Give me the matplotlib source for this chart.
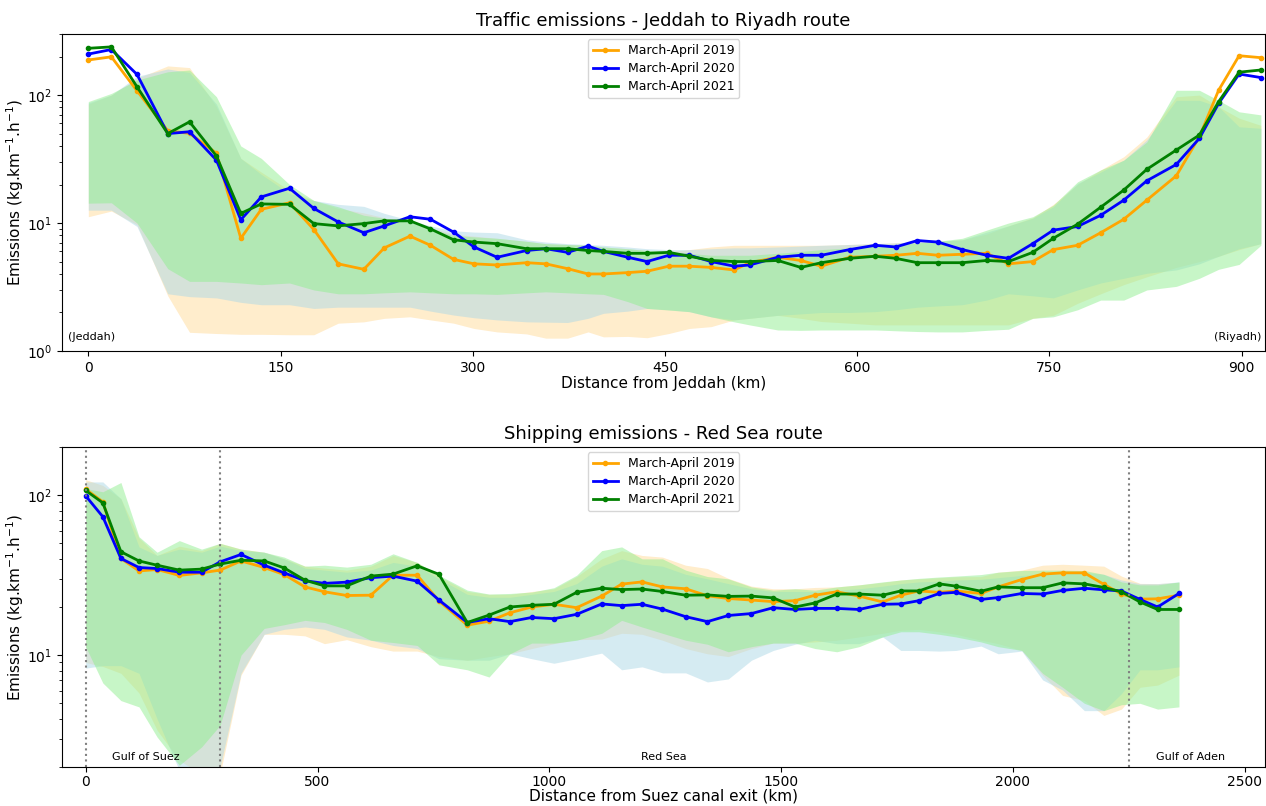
## traffic and shipping emissions along the two routes, 2019-2021
import numpy as np
import matplotlib
matplotlib.use('Agg')
import matplotlib.pyplot as plt
from matplotlib.ticker import MultipleLocator
import matplotlib.transforms as mtransforms

########
# Jeddah -> Riyadh road (distance in km, emissions in kg.km-1.h-1)
dist_road = [0, 18, 38, 62, 79, 100, 119, 135, 157, 176,
             195, 215, 231, 251, 267, 285, 301, 319, 342, 357,
             374, 390, 402, 421, 436, 453, 469, 486, 504, 516,
             538, 556, 572, 594, 614, 630, 647, 663, 682, 701,
             718, 737, 753, 772, 790, 808, 826, 849, 867, 882,
             898, 915]

road_2019 = [188, 199, 108, 52.6, 50.2, 35.1, 7.6, 12.8, 14.4, 8.9,
             4.8, 4.35, 6.4, 7.9, 6.7, 5.2, 4.8, 4.7, 4.9, 4.8,
             4.4, 4.0, 4.0, 4.1, 4.2, 4.6, 4.6, 4.5, 4.3, 4.9,
             5.4, 5.1, 4.6, 5.4, 5.5, 5.6, 5.8, 5.6, 5.7, 5.8,
             4.8, 5.0, 6.2, 6.7, 8.4, 10.7, 15.1, 23.4, 47.2, 109,
             203, 196]
road_2020 = [209, 227, 145, 50, 51.7, 31, 10.6, 16, 18.7, 13,
             10.2, 8.4, 9.5, 11.2, 10.7, 8.5, 6.5, 5.4, 6.1, 6.3,
             5.9, 6.6, 6.0, 5.4, 5.0, 5.6, 5.6, 5.0, 4.6, 4.7,
             5.4, 5.6, 5.6, 6.2, 6.7, 6.5, 7.3, 7.1, 6.2, 5.6,
             5.3, 6.9, 8.8, 9.4, 11.5, 15.1, 21.4, 28.7, 45.9, 86,
             146, 137]
road_2021 = [232, 238, 116, 50, 61.8, 33.4, 11.9, 14.1, 14.0, 9.9,
             9.5, 9.9, 10.4, 10.4, 9.0, 7.4, 7.1, 6.9, 6.3, 6.3,
             6.3, 6.1, 6.0, 5.8, 5.8, 5.9, 5.5, 5.1, 5.0, 5.0,
             5.1, 4.5, 4.9, 5.3, 5.5, 5.3, 4.9, 4.9, 4.9, 5.1,
             5.0, 5.9, 7.6, 9.8, 13.3, 18.1, 26.3, 37.2, 48.7, 88.7,
             151, 157]

# spread (low / high) for each period
road_2019_lo = [11.2, 12.4, 9.7, 2.7, 1.4, 1.37, 1.35, 1.35, 1.34, 1.34,
                1.65, 1.69, 1.8, 1.85, 1.75, 1.65, 1.5, 1.41, 1.36, 1.26,
                1.26, 1.41, 1.29, 1.3, 1.27, 1.37, 1.5, 1.55, 1.75, 1.8,
                1.9, 1.8, 1.7, 1.65, 1.6, 1.6, 1.6, 1.6, 1.6, 1.6,
                1.6, 1.8, 1.9, 2.36, 2.8, 3.3, 3.8, 4.5, 5.0, 5.5,
                6.2, 6.9]
road_2019_hi = [85, 100, 135, 169, 164, 81, 32, 25, 18, 15,
                13, 12, 11, 10, 9.2, 8.2, 7.9, 7.6, 7.2, 6.9,
                6.8, 6.7, 6.5, 6.3, 6.1, 6.0, 6.2, 6.5, 6.7, 6.7,
                6.7, 6.7, 6.7, 6.8, 6.9, 7.0, 7.1, 7.2, 7.4, 8.2,
                9.5, 11, 14, 20, 26, 33, 47, 97, 100, 81,
                66, 58]
road_2020_lo = [12.6, 12.6, 9.4, 2.8, 2.66, 2.6, 2.4, 2.3, 2.3, 2.15,
                2.2, 2.2, 2.2, 2.2, 2.05, 1.91, 1.82, 1.75, 1.69, 1.68,
                1.67, 1.8, 1.97, 2.05, 2.15, 2.1, 2.03, 1.85, 1.75, 1.8,
                1.9, 1.95, 2.0, 2.0, 2.03, 2.1, 2.2, 2.25, 2.3, 2.5,
                2.8, 2.7, 2.6, 3.0, 3.4, 3.7, 4.05, 4.3, 4.8, 5.5,
                6.3, 6.9]
road_2020_hi = [87, 100, 140, 160, 150, 85, 32, 24, 17, 15,
                14, 13.5, 11.9, 10.5, 9.5, 8.7, 8.5, 8.4, 7.4, 7.1,
                6.9, 6.8, 6.7, 6.5, 6.3, 6.2, 6.2, 6.3, 6.4, 6.4,
                6.5, 6.6, 6.7, 6.8, 6.9, 7.0, 7.1, 7.2, 7.4, 8.5,
                9.5, 10.9, 13.4, 20.4, 25, 31, 44.7, 91, 91, 81,
                56.5, 55]
road_2021_lo = [14.3, 14.4, 10, 4.4, 3.5, 3.5, 3.4, 3.3, 3.4, 3.0,
                2.8, 2.8, 2.85, 2.9, 2.85, 2.8, 2.8, 2.77, 2.85, 2.9,
                2.85, 2.8, 2.77, 2.43, 2.15, 2.09, 2.03, 1.85, 1.69, 1.6,
                1.46, 1.45, 1.46, 1.46, 1.46, 1.44, 1.42, 1.41, 1.41, 1.45,
                1.48, 1.8, 1.85, 2.1, 2.5, 2.5, 3.0, 3.2, 3.7, 4.35,
                4.75, 6.7]
road_2021_hi = [89, 103, 131, 152, 157, 97, 40, 32, 20, 15,
                13.4, 11.5, 10.9, 10.2, 9.0, 8.0, 7.8, 7.6, 7.2, 6.9,
                6.8, 6.7, 6.5, 6.3, 6.1, 6.0, 5.8, 5.6, 5.6, 5.6,
                5.8, 6.0, 6.2, 6.4, 6.6, 6.8, 7.0, 7.2, 7.6, 8.8,
                10, 11.2, 13.8, 21, 26, 31, 43, 109, 109, 91,
                74, 70]

########
# Red Sea shipping lane, distance from the Suez canal exit
dist_sea = [0, 37, 76, 115, 154, 202, 250, 290, 335, 385,
            428, 473, 515, 563, 615, 663, 715, 762, 823, 870,
            915, 962, 1010, 1059, 1113, 1156, 1200, 1244, 1294, 1341,
            1386, 1436, 1483, 1530, 1573, 1620, 1668, 1719, 1758, 1797,
            1841, 1877, 1931, 1968, 2019, 2064, 2107, 2154, 2196, 2234,
            2274, 2312, 2358]

sea_2019 = [109, 90.8, 40.2, 33.6, 34.3, 31.5, 32.7, 34.0, 38.8, 35.3,
            31.9, 26.7, 24.9, 23.6, 23.7, 31.6, 31.6, 21.8, 15.4, 16.3,
            18.4, 20.0, 20.8, 19.8, 23.4, 27.8, 28.7, 26.7, 26.0, 23.5,
            22.6, 22.1, 21.6, 21.9, 23.7, 24.9, 23.4, 21.5, 23.7, 25.2,
            24.7, 25.2, 24.3, 26.7, 29.7, 32.1, 32.7, 32.7, 27.7, 24.1,
            22.4, 22.5, 23.7]
sea_2020 = [99, 73.3, 40.2, 35.3, 34.8, 33.0, 33.0, 38.3, 42.6, 36.5,
            32.7, 29.2, 28.1, 28.6, 30.5, 31.2, 29.0, 22.1, 16.0, 16.9,
            16.2, 17.2, 16.9, 18.0, 20.9, 20.4, 20.8, 19.4, 17.4, 16.2,
            17.7, 18.2, 19.8, 19.3, 19.6, 19.6, 19.3, 20.8, 20.9, 21.9,
            24.3, 24.7, 22.3, 22.9, 24.3, 24.1, 25.4, 26.2, 25.6, 25.2,
            22.3, 20.0, 24.3]
sea_2021 = [107, 89.5, 44.3, 38.8, 36.5, 34.0, 34.5, 37.1, 39.2, 38.8,
            35.1, 29.4, 27.1, 27.1, 31.2, 32.1, 36.2, 32.0, 16.0, 17.8,
            20.0, 20.5, 20.8, 24.7, 26.2, 25.7, 25.9, 25.0, 23.7, 23.8,
            23.3, 23.4, 22.8, 20.0, 21.2, 24.1, 24.1, 23.7, 25.2, 25.2,
            27.9, 27.0, 25.1, 26.7, 26.4, 26.4, 28.3, 27.9, 26.5, 24.9,
            21.5, 19.3, 19.3]

sea_2019_lo = [9.0, 8.5, 7.7, 5.8, 3.4, 2.2, 1.8, 1.8, 7.5, 13.5,
               13.5, 13.2, 11.8, 12.5, 11.3, 10.6, 10.6, 9.8, 9.3, 9.8,
               10.2, 11.0, 11.8, 12.5, 12.6, 13.7, 13.5, 12.4, 11.0, 10.2,
               9.8, 11.0, 11.9, 11.9, 12.1, 12.4, 13, 13.7, 14.3, 14.5,
               14, 13.5, 12.4, 11.8, 10.7, 7.5, 5.6, 5.2, 4.2, 4.6,
               6.3, 6.5, 7.5]
sea_2019_hi = [125, 115, 95, 54, 42, 48, 45, 50, 46, 44,
               40, 36, 35, 34, 36, 42, 38, 31, 25, 24,
               24, 25, 26, 31, 40, 45, 42, 41, 36.5, 34.8,
               30.2, 27, 26, 26, 26.5, 26.7, 27.5, 28.5, 29.5, 30,
               30.5, 30.9, 31, 33, 34, 36.5, 37, 36.5, 36, 31.2,
               28.1, 28, 28.5]
sea_2020_lo = [8.3, 8.6, 8.6, 7.7, 4.0, 1.9, 1.8, 2.0, 7.7, 13.5,
               14.5, 15, 14.5, 13.0, 12.4, 11.5, 11, 9.5, 9.3, 9.3,
               10.2, 9.5, 8.9, 9.5, 10.3, 8.1, 8.45, 7.75, 7.75, 6.8,
               7.1, 9.3, 10.7, 11.7, 12.4, 11.8, 11.8, 13.0, 10.7, 10.7,
               10.6, 10.7, 11.4, 10.2, 10.6, 7.0, 6.05, 4.5, 4.5, 5.75,
               8.1, 8.1, 8.45]
sea_2020_hi = [121, 121, 95, 47.5, 42, 46, 44, 48, 45, 44,
               40, 35, 34, 33, 34, 38, 36, 30, 24, 23,
               23, 24, 25, 28, 36, 40, 37, 36, 32, 30,
               28, 26, 25, 25, 25, 25.5, 26, 27, 28, 28.7,
               29, 29.5, 29.8, 30.5, 31.5, 32, 33, 33, 32, 29.5,
               28, 28, 28.7]
sea_2021_lo = [11.3, 6.7, 5.2, 4.75, 3.08, 2.05, 2.67, 3.65, 10, 14.7,
               15.5, 16.5, 16, 14.5, 12.4, 12, 11.5, 8.7, 8.1, 7.3,
               10.2, 11.9, 11.9, 12.4, 13.7, 16.5, 15, 13.7, 12.4, 11.7,
               10.5, 11.3, 11.9, 11.9, 11.0, 10.5, 11.3, 13.0, 14, 14,
               13.5, 13, 12.1, 11.3, 10.7, 7.7, 6.3, 5.0, 4.5, 4.9,
               5.0, 4.6, 4.75]
sea_2021_hi = [110, 105, 120, 55, 44, 52, 46, 50, 46, 44,
               41, 36, 36.5, 35.5, 37, 43, 38, 31.6, 25.5, 24.1,
               24.3, 24.8, 26.4, 31.6, 45, 47.5, 40, 40, 34, 31,
               30, 26.7, 25.5, 26, 25.5, 26.7, 27.5, 28.7, 29.5, 30.2,
               30.8, 31.2, 31.9, 33, 33.8, 34, 34, 33.8, 32, 28.7,
               27.5, 27.5, 28.7]

# region limits along the shipping lane (km)
sea_borders = [0, 289, 2251]
sea_regions = ['Gulf of Suez', 'Red Sea', 'Gulf of Aden']
sea_region_pos = [130, 1247, 2382]

periods = ['March-April 2019', 'March-April 2020', 'March-April 2021']
line_cols = ['orange', 'blue', 'green']
band_cols = [('orange', .2), ('lightblue', .5), ('lightgreen', .5)]

ylab = r'Emissions (kg.km$^{-1}$.h$^{-1}$)'


def plot_route(ax, dist, means, spreads):
    for (lo, hi), (c, a) in zip(spreads, band_cols):
        ax.fill_between(dist, lo, hi, color=c, alpha=a, lw=0)
    for m, c, lab in zip(means, line_cols, periods):
        ax.plot(dist, m, color=c, lw=2, marker='o', ms=3, label=lab)
    ax.set_yscale('log')
    ax.legend(loc='upper center', fontsize=9, borderaxespad=0.4,
              labelspacing=0.4)
    ax.set_ylabel(ylab, fontsize=11, labelpad=1)


fig = plt.figure(figsize=(12.66, 8.06), dpi=100)
ax1 = fig.add_axes([0.049, 0.5645, 0.950, 0.3933])
ax2 = fig.add_axes([0.049, 0.0484, 0.950, 0.3970])

#### top panel: road traffic
plot_route(ax1, dist_road, [road_2019, road_2020, road_2021],
           [(road_2019_lo, road_2019_hi), (road_2020_lo, road_2020_hi),
            (road_2021_lo, road_2021_hi)])
ax1.set_ylim(1, 300)
ax1.set_xlim(-20.5, 918)
ax1.xaxis.set_major_locator(MultipleLocator(150))
ax1.set_title('Traffic emissions - Jeddah to Riyadh route', fontsize=13)
ax1.set_xlabel('Distance from Jeddah (km)', fontsize=11, labelpad=1)
ax1.text(0.005, 0.03, '(Jeddah)', transform=ax1.transAxes, fontsize=8,
         ha='left', va='bottom')
ax1.text(0.997, 0.03, '(Riyadh)', transform=ax1.transAxes, fontsize=8,
         ha='right', va='bottom')

#### bottom panel: shipping
plot_route(ax2, dist_sea, [sea_2019, sea_2020, sea_2021],
           [(sea_2019_lo, sea_2019_hi), (sea_2020_lo, sea_2020_hi),
            (sea_2021_lo, sea_2021_hi)])
ax2.set_ylim(2, 200)
ax2.set_xlim(-51, 2543)
for b in sea_borders:
    ax2.axvline(b, color='grey', ls=':', lw=1.5)
trans = mtransforms.blended_transform_factory(ax2.transData, ax2.transAxes)
for name, pos in zip(sea_regions, sea_region_pos):
    ax2.text(pos, 0.015, name, transform=trans, fontsize=8, ha='center',
             va='bottom')
ax2.set_title('Shipping emissions - Red Sea route', fontsize=13)
ax2.set_xlabel('Distance from Suez canal exit (km)', fontsize=11, labelpad=0)
ax2.tick_params(axis='x', pad=2)

plt.savefig('out.png', dpi=100)
